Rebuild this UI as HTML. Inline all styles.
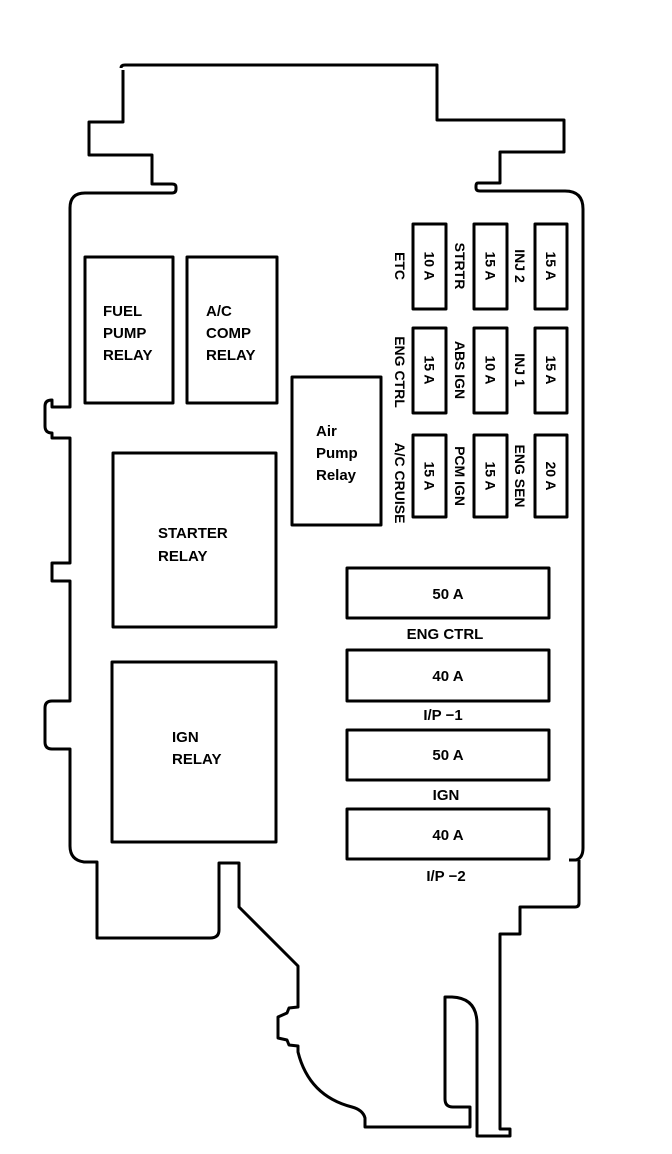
<!DOCTYPE html>
<html><head><meta charset="utf-8"><style>
html,body{margin:0;padding:0;background:#fff;}
svg{display:block;}
text{font-family:"Liberation Sans",Arial,sans-serif;font-weight:bold;fill:#000;}
</style></head><body>
<svg width="672" height="1154" viewBox="0 0 672 1154" xmlns="http://www.w3.org/2000/svg">
<g fill="none" stroke="#000" stroke-width="3" stroke-linejoin="round">
<path d="M121,68 Q121,65 125,65 L437,65 L437,120 L564,120 L564,152 L500,152 L500,183 L478,183 Q476,183 476,186 L476,188 Q476,191 480,191 L565,191 Q583,191 583,209 L583,848 Q583,858 576,860 L569,860 M579,860 L579,903 Q579,907 575,907 L520,907 L520,934 L500,934 L500,1129 L510,1129 L510,1136 L477,1136 L477,1024 Q477,998 452,997 L445,997 L445,1099 Q445,1107 453,1107 L470,1107 L470,1127 L365,1127 L365,1118 Q363,1110 352,1107 Q309,1096 298,1052 L298,1046 L289,1045 L287,1040 L278,1038 L278,1017 L287,1013 L289,1008 L298,1007 L298,966 L239,907 L239,863 L219,863 L219,930 Q219,938 210,938 L97,938 L97,862 L84,862 Q70,860 70,846 L70,749 L52,749 Q45,749 45,742 L45,708 Q45,701 52,701 L70,701 L70,581 L52,581 L52,563 L70,563 L70,438 L52,438 L52,433 Q45,433 45,426 L45,406 Q45,400 52,400 L52,407 L70,407 L70,208 Q70,193 85,193 L172,193 Q176,193 176,189 L176,187 Q176,184 172,184 L152,184 L152,155 L89,155 L89,122 L123,122 L123,70"/>
<rect x="85" y="257" width="88" height="146"/>
<rect x="187" y="257" width="90" height="146"/>
<rect x="113" y="453" width="163" height="174"/>
<rect x="112" y="662" width="164" height="180"/>
<rect x="292" y="377" width="89" height="148"/>
<rect x="413" y="224" width="33" height="85"/>
<rect x="474" y="224" width="33" height="85"/>
<rect x="535" y="224" width="32" height="85"/>
<rect x="413" y="328" width="33" height="85"/>
<rect x="474" y="328" width="33" height="85"/>
<rect x="535" y="328" width="32" height="85"/>
<rect x="413" y="435" width="33" height="82"/>
<rect x="474" y="435" width="33" height="82"/>
<rect x="535" y="435" width="32" height="82"/>
<rect x="347" y="568" width="202" height="50"/>
<rect x="347" y="650" width="202" height="51"/>
<rect x="347" y="730" width="202" height="50"/>
<rect x="347" y="809" width="202" height="50"/>
</g>
<g font-size="15">
<text x="103" y="316">FUEL</text><text x="103" y="338">PUMP</text><text x="103" y="360">RELAY</text>
<text x="206" y="316">A/C</text><text x="206" y="338">COMP</text><text x="206" y="360">RELAY</text>
<text x="158" y="538">STARTER</text><text x="158" y="561">RELAY</text>
<text x="172" y="742">IGN</text><text x="172" y="764">RELAY</text>
<text x="316" y="436">Air</text><text x="316" y="458">Pump</text><text x="316" y="480">Relay</text>
<g text-anchor="middle">
<text x="448" y="599">50 A</text><text x="445" y="639">ENG CTRL</text>
<text x="448" y="681">40 A</text><text x="443" y="720">I/P  −1</text>
<text x="448" y="760">50 A</text><text x="446" y="800">IGN</text>
<text x="448" y="840">40 A</text><text x="446" y="881">I/P  −2</text>
</g>
</g>
<g font-size="14" text-anchor="middle">
<text transform="translate(424.5,266) rotate(90)">10 A</text>
<text transform="translate(485.5,266) rotate(90)">15 A</text>
<text transform="translate(546,266) rotate(90)">15 A</text>
<text transform="translate(424.5,370) rotate(90)">15 A</text>
<text transform="translate(485.5,370) rotate(90)">10 A</text>
<text transform="translate(546,370) rotate(90)">15 A</text>
<text transform="translate(424.5,476) rotate(90)">15 A</text>
<text transform="translate(485.5,476) rotate(90)">15 A</text>
<text transform="translate(546,476) rotate(90)">20 A</text>
<text transform="translate(395,266) rotate(90)">ETC</text>
<text transform="translate(395,372) rotate(90)">ENG CTRL</text>
<text transform="translate(395,483) rotate(90)">A/C CRUISE</text>
<text transform="translate(455,266) rotate(90)">STRTR</text>
<text transform="translate(455,370) rotate(90)">ABS IGN</text>
<text transform="translate(455,476) rotate(90)">PCM IGN</text>
<text transform="translate(515,266) rotate(90)">INJ 2</text>
<text transform="translate(515,370) rotate(90)">INJ 1</text>
<text transform="translate(515,476) rotate(90)">ENG SEN</text>
</g>
</svg>
</body></html>
